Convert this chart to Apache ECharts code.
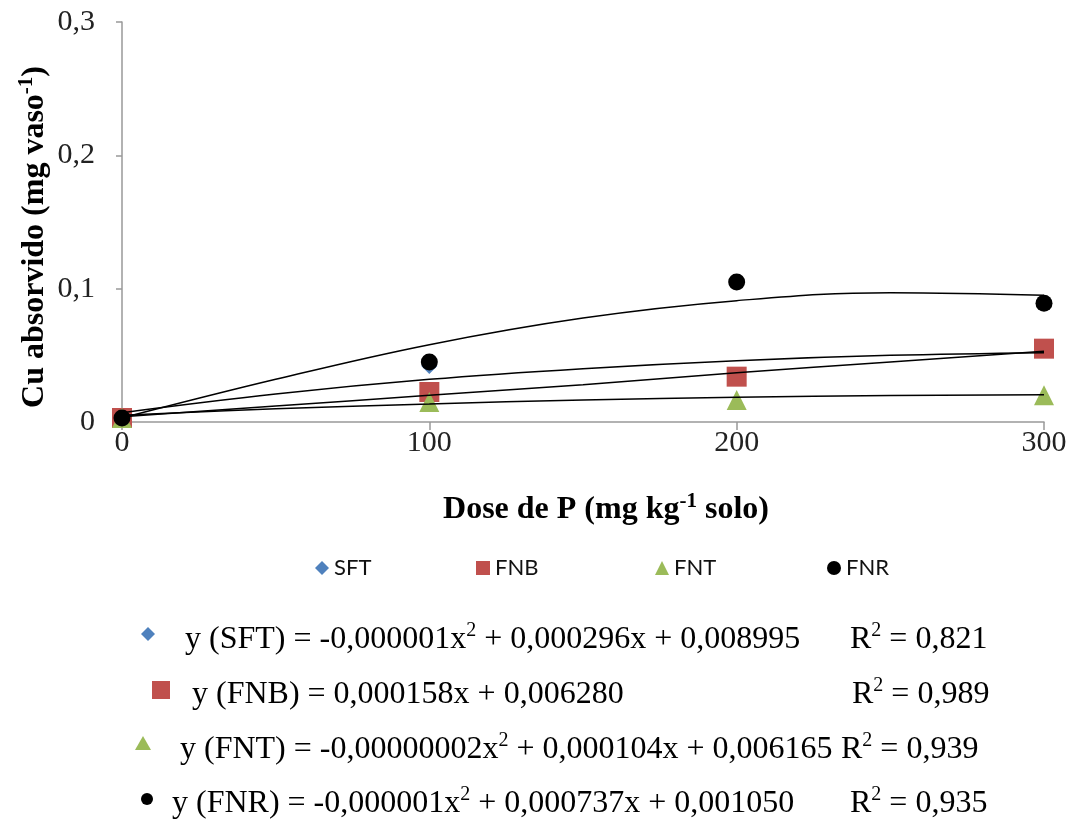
<!DOCTYPE html>
<html><head><meta charset="utf-8">
<script src="https://cdn.jsdelivr.net/npm/echarts@6/dist/echarts.min.js"></script>
<style>html,body{margin:0;padding:0;background:#fff}#c{width:1073px;height:822px}</style>
</head><body><div id="c"></div>
<script>
const seriesNames = ['SFT', 'FNB', 'FNT', 'FNR'];
const doses = [0, 100, 200, 300];
const sftValues = [0.004, 0.042, 0.035, 0.055];
const fnbValues = [0.003, 0.0225, 0.034, 0.055];
const fntValues = [0.003, 0.015, 0.0165, 0.020];
const fnrValues = [0.003, 0.045, 0.105, 0.089];
const trendDoses = [0, 50, 100, 150, 200, 250, 300];
const sftTrend = [0.007, 0.021, 0.032, 0.040, 0.046, 0.050, 0.052];
const fnbTrend = [0.004, 0.012, 0.020, 0.028, 0.037, 0.045, 0.053];
const fntTrend = [0.005, 0.010, 0.0135, 0.0165, 0.0185, 0.0198, 0.0205];
const fnrTrend = [0.003, 0.032, 0.058, 0.078, 0.091, 0.097, 0.095];
const yTicks = [0, 0.1, 0.2, 0.3];
const xTicks = [0, 100, 200, 300];
const yTitle = '{b|Cu absorvido (mg vaso}{s|-1}{b|)}';
const xTitle = '{b|Dose de P (mg kg}{s|-1}{b| solo)}';
const eqLeft = ['y (SFT) = -0,000001x{s|2} + 0,000296x + 0,008995', 'y (FNB) = 0,000158x + 0,006280', 'y (FNT) = -0,00000002x{s|2} + 0,000104x + 0,006165', 'y (FNR) = -0,000001x{s|2} + 0,000737x + 0,001050'];
const eqR2 = ['0,821', '0,989', '0,939', '0,935'];

const colors = ['#4F81BD', '#C0504D', '#9BBB59', '#000000'];
const symbols = ['diamond', 'rect', 'triangle', 'circle'];
const symSizes = [16, 20, 20, 17];
const values = [sftValues, fnbValues, fntValues, fnrValues];
const trends = [sftTrend, fnbTrend, fntTrend, fnrTrend];

const serif = '"Liberation Serif", "Times New Roman", serif';
const chart = echarts.init(document.getElementById('c'));

const series = [];
seriesNames.forEach((n, i) => {
  series.push({
    name: n, type: 'scatter', symbol: symbols[i], symbolSize: symSizes[i],
    itemStyle: { color: colors[i], opacity: 1 }, z: 2 + i,
    data: doses.map((d, j) => [d, values[i][j]])
  });
});
trends.forEach((t, i) => {
  series.push({
    name: 'trend' + seriesNames[i], type: 'line', smooth: 0.4, showSymbol: false, z: 10,
    lineStyle: { color: '#000', width: 1.5 }, silent: true,
    data: trendDoses.map((d, j) => [d, t[j]])
  });
});

const legendX = [310, 471, 650, 822];
const legends = seriesNames.map((n, i) => ({
  data: [n], left: legendX[i], top: 552, itemWidth: 14, itemHeight: 14, itemGap: 6,
  textStyle: { fontFamily: 'Lato, "Liberation Sans", sans-serif', fontSize: 22, color: '#111' },
  selectedMode: false
}));

const titleRich = {
  b: { fontFamily: serif, fontSize: 32, fontWeight: 'bold', fill: '#000', lineHeight: 38 },
  s: { fontFamily: serif, fontSize: 21, fontWeight: 'bold', fill: '#000', verticalAlign: 'top', lineHeight: 38 }
};
const eqRich = {
  n: { fontFamily: serif, fontSize: 32, fill: '#000', lineHeight: 38 },
  s: { fontFamily: serif, fontSize: 20, fill: '#000', verticalAlign: 'top', lineHeight: 38 }
};
const wrapN = t => t.split(/(\{s\|[^}]*\})/).filter(x => x).map(x => x.startsWith('{s|') ? x : '{n|' + x + '}').join('');

const eqY = [640, 695, 750, 804];
const eqX = [185, 192, 180, 172];
const r2X = [850, 852, 841, 850];
const mX = [148, 161, 143, 147];

const graphics = [
  { type: 'text', x: 35, y: 237, rotation: Math.PI / 2,
    style: { text: yTitle, rich: titleRich, align: 'center', verticalAlign: 'middle' } },
  { type: 'text', x: 606, y: 510,
    style: { text: xTitle, rich: titleRich, align: 'center', verticalAlign: 'middle' } }
];
eqY.forEach((y, i) => {
  graphics.push({ type: 'text', x: eqX[i], y: y,
    style: { text: wrapN(eqLeft[i]), rich: eqRich, align: 'left', verticalAlign: 'middle' } });
  graphics.push({ type: 'text', x: r2X[i], y: y,
    style: { text: wrapN('R{s|2} = ' + eqR2[i]), rich: eqRich, align: 'left', verticalAlign: 'middle' } });
});
graphics.push({ type: 'polygon', shape: { points: [[mX[0], eqY[0] - 13], [mX[0] + 7, eqY[0] - 6], [mX[0], eqY[0] + 1], [mX[0] - 7, eqY[0] - 6]] }, style: { fill: colors[0] } });
graphics.push({ type: 'rect', shape: { x: mX[1] - 9, y: eqY[1] - 14, width: 18, height: 18 }, style: { fill: colors[1] } });
graphics.push({ type: 'polygon', shape: { points: [[mX[2], eqY[2] - 14], [mX[2] + 8, eqY[2]], [mX[2] - 8, eqY[2]]] }, style: { fill: colors[2] } });
graphics.push({ type: 'circle', shape: { cx: mX[3], cy: eqY[3] - 5, r: 6 }, style: { fill: colors[3] } });

chart.setOption({
  animation: false,
  color: colors,
  grid: { left: 122, right: 29, top: 22, bottom: 400, containLabel: false },
  legend: legends,
  xAxis: {
    type: 'value', min: 0, max: 300, interval: 100,
    axisLine: { lineStyle: { color: '#999', width: 1.5 } },
    axisTick: { show: true, length: 8, inside: false, lineStyle: { color: '#999', width: 1.5 } },
    splitLine: { show: false },
    axisLabel: { fontFamily: serif, fontSize: 30, color: '#222', margin: 6 }
  },
  yAxis: {
    type: 'value', min: 0, max: 0.3, interval: 0.1,
    axisLine: { show: true, lineStyle: { color: '#999', width: 1.5 } },
    axisTick: { show: true, length: 6, lineStyle: { color: '#999', width: 1.5 } },
    splitLine: { show: false },
    axisLabel: { fontFamily: serif, fontSize: 30, color: '#222', margin: 27,
      formatter: v => (v === 0 ? '0' : v.toFixed(1).replace('.', ',')) }
  },
  graphic: graphics,
  series: series
});
</script></body></html>
